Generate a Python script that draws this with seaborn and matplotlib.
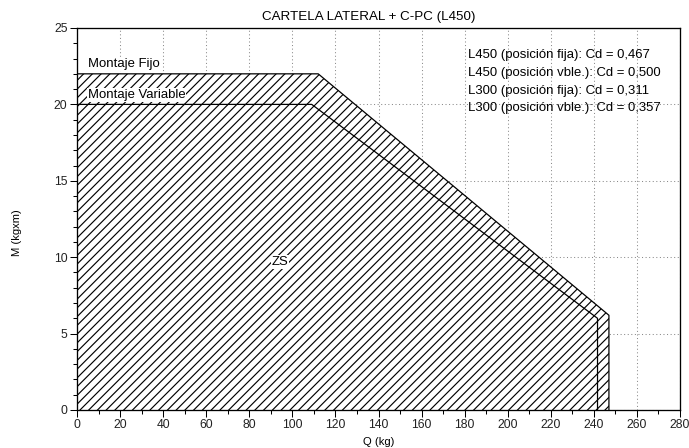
import matplotlib
matplotlib.use("Agg")
import matplotlib.pyplot as plt
import seaborn as sns
import pandas as pd
from matplotlib.ticker import MultipleLocator

# Data
q_fijo = [0, 0, 112, 247, 247]
m_fijo = [0, 22, 22, 6.2, 0]
q_var = [0, 0, 109, 241.7, 241.7]
m_var = [0, 20, 20, 6.0, 0]
series_names = ["Montaje Fijo", "Montaje Variable"]
info_lines = [
    "L450 (posición fija): Cd = 0,467",
    "L450 (posición vble.): Cd = 0,500",
    "L300 (posición fija): Cd = 0,311",
    "L300 (posición vble.): Cd = 0,357",
]
title = "CARTELA LATERAL + C-PC (L450)"

sns.set_theme(style="ticks")
plt.rcParams["font.family"] = ["Liberation Sans", "DejaVu Sans"]
plt.rcParams["hatch.linewidth"] = 0.8
plt.rcParams["text.color"] = "black"

DPI = 105
fig = plt.figure(figsize=(689 / DPI, 448 / DPI), dpi=DPI)
ax = fig.add_axes([77 / 689, 38 / 448, 603 / 689, 382 / 448])

series = {series_names[0]: (q_fijo, m_fijo), series_names[1]: (q_var, m_var)}

# hatched fills
for z, (name, (qs, ms)) in enumerate(series.items(), start=1):
    ax.fill(qs, ms, facecolor="white", edgecolor="black", hatch="////",
            linewidth=0, zorder=z)

# outlines
for name, (qs, ms) in series.items():
    d = pd.DataFrame({"Q": qs, "M": ms})
    sns.lineplot(data=d, x="Q", y="M", sort=False, estimator=None, color="black",
                 linewidth=0.85, ax=ax, zorder=3)

ax.set_xlim(0, 280)
ax.set_ylim(0, 25)
ax.xaxis.set_major_locator(MultipleLocator(20))
ax.xaxis.set_minor_locator(MultipleLocator(10))
ax.yaxis.set_major_locator(MultipleLocator(5))
ax.yaxis.set_minor_locator(MultipleLocator(1))
ax.tick_params(which="major", direction="out", length=4.5, width=0.7,
               labelsize=8.3, color="black", labelcolor="#222222", pad=2)
ax.tick_params(which="minor", direction="out", length=2.8, width=0.7, color="black")
ax.grid(True, which="major", linestyle=(0, (1, 2.5)), color="#888888", linewidth=0.7, zorder=0)
ax.set_axisbelow(True)
for s in ax.spines.values():
    s.set_color("black")
    s.set_linewidth(0.9)
    s.set_zorder(5)
ax.set_xlabel("")
ax.set_ylabel("")

bbox = dict(facecolor="white", edgecolor="none", pad=0.5)
ax.text(5, 22.65, series_names[0], fontsize=9, va="center", ha="left", bbox=bbox, zorder=4)
ax.text(5, 20.6, series_names[1], fontsize=9, va="center", ha="left", bbox=bbox, zorder=4)
ax.text(94.2, 9.7, "ZS", fontsize=9, va="center", ha="center", bbox=bbox, zorder=4)

for yv, t in zip([23.25, 22.07, 20.89, 19.74], info_lines):
    ax.text(181.5, yv, t, fontsize=9, va="center", ha="left", zorder=4)

fig.text(369 / 689, 1 - 17 / 448, title, fontsize=9.2, ha="center", va="center")
fig.text(378.5 / 689, 1 - 442 / 448, "Q (kg)", fontsize=7.7, ha="center", va="center")
fig.text(16.7 / 689, 1 - 233 / 448, "M (kgxm)", fontsize=7.7, ha="center", va="center", rotation=90)

fig.savefig("out.png", dpi=DPI)
